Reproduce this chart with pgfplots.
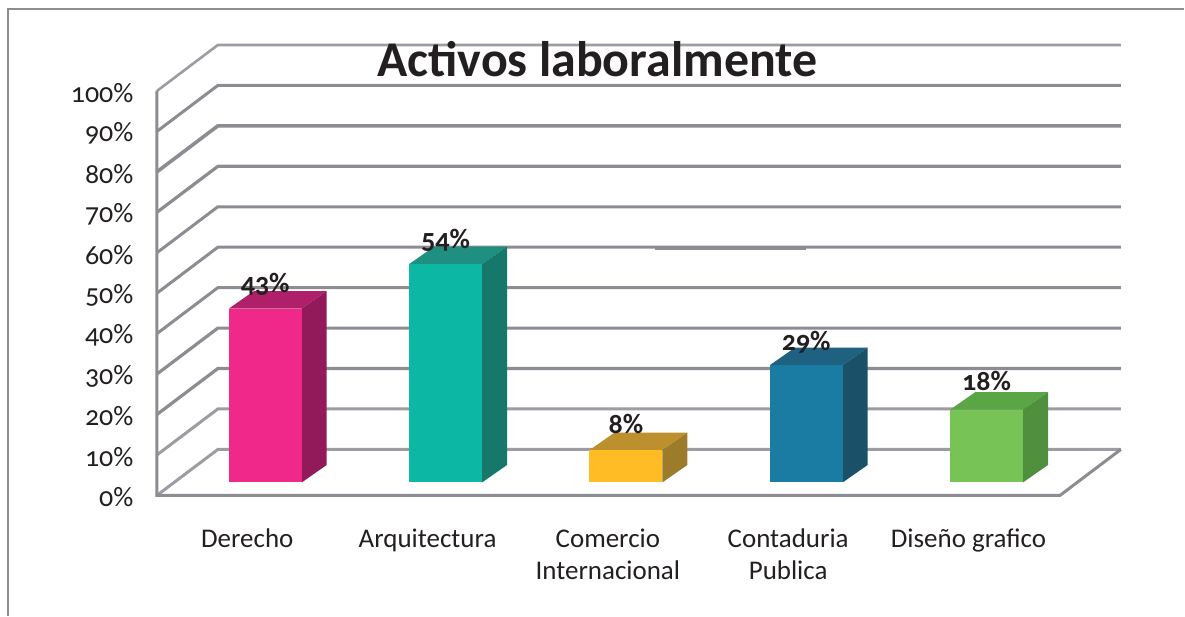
\documentclass[border=0pt]{standalone}
\usepackage{pgfplots}
\pgfplotsset{compat=1.18}
\usepackage{fontspec}
\setmainfont[Numbers=OldStyle]{Carlito}
\definecolor{txt}{HTML}{231F20}
\definecolor{gl}{HTML}{8C8C92}
\definecolor{gll}{HTML}{9C9CA2}
\definecolor{c1f}{HTML}{F0288A}\definecolor{c1t}{HTML}{B0206A}\definecolor{c1s}{HTML}{921A5A}
\definecolor{c2f}{HTML}{0CB8A4}\definecolor{c2t}{HTML}{1E8F80}\definecolor{c2s}{HTML}{16786B}
\definecolor{c3f}{HTML}{FFBC25}\definecolor{c3t}{HTML}{BC902D}\definecolor{c3s}{HTML}{9C7C2B}
\definecolor{c4f}{HTML}{1B7CA3}\definecolor{c4t}{HTML}{1F6180}\definecolor{c4s}{HTML}{1A5169}
\definecolor{c5f}{HTML}{78C355}\definecolor{c5t}{HTML}{5AA645}\definecolor{c5s}{HTML}{508F3D}
\pgfplotsset{
  barf/.style 2 args={ybar,bar width=73pt,bar shift=0pt,fill=#1,draw=none,
    nodes near coords style={font=\fontsize{28}{30}\selectfont\bfseries,text=txt,yshift=#2}},
}
\begin{document}
\begin{tikzpicture}[x=1pt,y=1pt]
\begin{axis}[
  scale only axis, width=965pt, height=451pt,
  xmin=-0.601, xmax=4.745, ymin=-3.2, ymax=108.2,
  clip=false,
  axis line style={draw=none}, major tick length=0pt,
  xtick={-0.1,0.9,1.9,2.9,3.9},
  xticklabels={Derecho,Arquitectura,{Comercio\\Internacional},{Contaduria\\Publica},Diseño grafico},
  xticklabel style={align=center,font=\fontsize{27}{32}\selectfont,text=txt,anchor=north,yshift=-30pt},
  ytick={-3.2,6.8,16.8,26.8,36.8,46.8,56.8,66.8,76.8,86.8,96.8},
  yticklabels={0\%,10\%,20\%,30\%,40\%,50\%,60\%,70\%,80\%,90\%,100\%},
  yticklabel style={font=\fontsize{28}{30}\selectfont,text=txt,anchor=east,xshift=-20pt,yshift=-2pt},
]
% page bounds and frame
\addplot[draw=none,forget plot] coordinates {(-1.471,-32.92) (5.094,119.3)};
\addplot[color=gl,line width=2.4pt,forget plot] coordinates {(-1.427,-32.92) (-1.427,117.08) (5.094,117.08)};
% walls and floor
\addplot[gll,line width=2.6pt] coordinates {(-0.601,96.8) (-0.263,108.17) (4.745,108.17)};
\addplot[gl,line width=3pt] coordinates {(-0.601,86.8) (-0.263,98.17) (4.745,98.17)};
\addplot[gl,line width=3.6pt] coordinates {(-0.601,76.8) (-0.263,88.17) (4.745,88.17)};
\addplot[gl,line width=3.2pt] coordinates {(-0.601,66.8) (-0.263,78.17) (4.745,78.17)};
\addplot[gl,line width=3pt] coordinates {(-0.601,56.8) (-0.263,68.17) (4.745,68.17)};
\addplot[gl,line width=3pt] coordinates {(-0.601,46.8) (-0.263,58.17) (4.745,58.17)};
\addplot[gl,line width=2.8pt] coordinates {(2.16,57.9) (3.0,57.9)};
\addplot[gl,line width=3pt] coordinates {(-0.601,36.8) (-0.263,48.17) (4.745,48.17)};
\addplot[gl,line width=3.2pt] coordinates {(-0.601,26.8) (-0.263,38.17) (4.745,38.17)};
\addplot[gl,line width=3.2pt] coordinates {(-0.601,16.8) (-0.263,28.17) (4.745,28.17)};
\addplot[gll,line width=3pt] coordinates {(-0.601,6.8) (-0.263,18.17) (4.745,18.17)};
\addplot[gll,line width=3pt] coordinates {(-0.601,-3.2) (-0.263,8.17) (4.745,8.17)};
\addplot[gl,line width=3pt] coordinates {(-0.601,96.8) (-0.601,-3.2) (4.407,-3.2) (4.745,8.17)};
% Derecho
\addplot[c1t,fill=c1t,draw=none] coordinates {(-0.202,43) (0.202,43) (0.341,47.33) (-0.063,47.33)} --cycle;
\addplot[c1s,fill=c1s,draw=none] coordinates {(0.202,0) (0.341,4.33) (0.341,47.33) (0.202,43)} --cycle;
\addplot[barf={c1f}{10pt},nodes near coords={43\%}] coordinates {(0,43)};
% Arquitectura
\addplot[fill=c2t,draw=none] coordinates {(0.798,54) (1.202,54) (1.341,58.33) (0.937,58.33)} --cycle;
\addplot[fill=c2s,draw=none] coordinates {(1.202,0) (1.341,4.33) (1.341,58.33) (1.202,54)} --cycle;
\addplot[barf={c2f}{9pt},nodes near coords={54\%}] coordinates {(1,54)};
% Comercio Internacional
\addplot[fill=c3t,draw=none] coordinates {(1.798,8) (2.202,8) (2.341,12.33) (1.937,12.33)} --cycle;
\addplot[fill=c3s,draw=none] coordinates {(2.202,0) (2.341,4.33) (2.341,12.33) (2.202,8)} --cycle;
\addplot[barf={c3f}{13pt},nodes near coords={8\%}] coordinates {(2,8)};
% Contaduria Publica
\addplot[fill=c4t,draw=none] coordinates {(2.798,29) (3.202,29) (3.341,33.33) (2.937,33.33)} --cycle;
\addplot[fill=c4s,draw=none] coordinates {(3.202,0) (3.341,4.33) (3.341,33.33) (3.202,29)} --cycle;
\addplot[barf={c4f}{8pt},nodes near coords={29\%}] coordinates {(3,29)};
% Diseno grafico
\addplot[fill=c5t,draw=none] coordinates {(3.798,18) (4.202,18) (4.341,22.33) (3.937,22.33)} --cycle;
\addplot[fill=c5s,draw=none] coordinates {(4.202,0) (4.341,4.33) (4.341,22.33) (4.202,18)} --cycle;
\addplot[barf={c5f}{15pt},nodes near coords={18\%}] coordinates {(4,18)};
\node[font=\fontsize{50}{54}\selectfont\bfseries,text=txt] at (axis cs:1.842,104.8) {Activos laboralmente};
\end{axis}
\end{tikzpicture}
\end{document}
